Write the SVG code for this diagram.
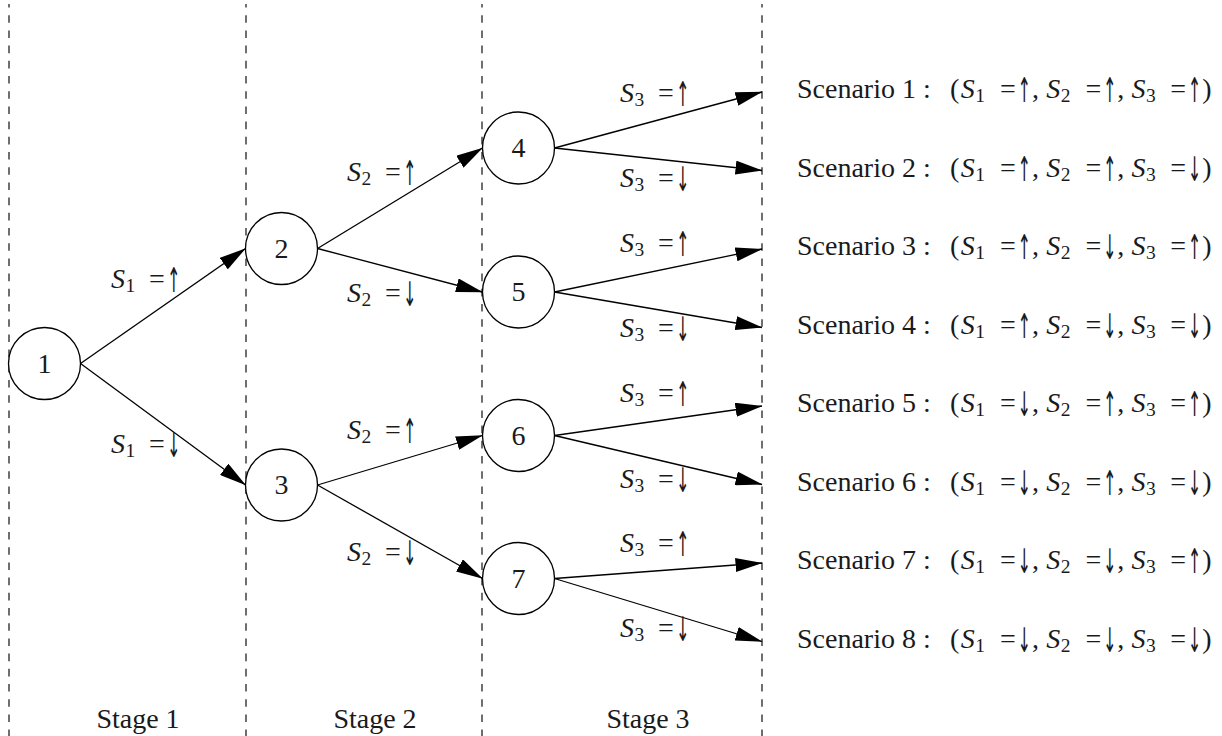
<svg xmlns="http://www.w3.org/2000/svg" width="1222" height="736" viewBox="0 0 1222 736">
<style>
  .dash{stroke:#222;stroke-width:1.3;stroke-dasharray:7.6 7.6;stroke-dashoffset:4;fill:none}
  .nd{fill:#fff;stroke:#000;stroke-width:1.3}
  text{font-family:"Liberation Serif","Times New Roman",serif;font-size:28px;fill:#1a1a1a}
  .num{text-anchor:middle}
  .mid{text-anchor:middle}
  .i{font-style:italic}
  .sb{font-size:19.5px}
  text.ar{font-family:"DejaVu Sans",sans-serif;font-size:34px}
  .edge{stroke:#000;stroke-width:1.3;fill:none;marker-end:url(#ah)}
</style>
<defs>
  <marker id="ah" markerUnits="userSpaceOnUse" viewBox="0 0 27 14" markerWidth="27" markerHeight="14" refX="26.5" refY="7" orient="auto">
    <path d="M0,0 L27,7 L0,14 Z" fill="#000"/>
  </marker>
</defs>
<rect width="1222" height="736" fill="#fff"/>

<g id="stage-separators">
  <path class="dash" d="M9,4 V736"/>
  <path class="dash" d="M246,4 V736"/>
  <path class="dash" d="M482,4 V736"/>
  <path class="dash" d="M762,4 V736"/>
</g>

<g id="stage-labels">
  <text class="mid" x="138" y="728">Stage 1</text>
  <text class="mid" x="375" y="728">Stage 2</text>
  <text class="mid" x="648" y="728">Stage 3</text>
</g>

<g id="connectors">
  <line class="edge" x1="80.5" y1="363.5" x2="245.5" y2="248.5"/>
  <line class="edge" x1="80.5" y1="363.5" x2="245.5" y2="485"/>
  <line class="edge" x1="317.5" y1="248.5" x2="482.5" y2="148"/>
  <line class="edge" x1="317.5" y1="248.5" x2="482.5" y2="292"/>
  <line class="edge" x1="317.5" y1="485" x2="482.5" y2="435.5"/>
  <line class="edge" x1="317.5" y1="485" x2="482.5" y2="578.5"/>
  <line class="edge" x1="554.5" y1="148" x2="762" y2="92"/>
  <line class="edge" x1="554.5" y1="148" x2="762" y2="170.5"/>
  <line class="edge" x1="554.5" y1="292" x2="762" y2="249"/>
  <line class="edge" x1="554.5" y1="292" x2="762" y2="327.5"/>
  <line class="edge" x1="554.5" y1="435.5" x2="762" y2="406"/>
  <line class="edge" x1="554.5" y1="435.5" x2="762" y2="484.5"/>
  <line class="edge" x1="554.5" y1="578.5" x2="762" y2="563"/>
  <line class="edge" x1="554.5" y1="578.5" x2="762" y2="641.5"/>
</g>

<g id="edge-labels">
  <g><text y="288"><tspan x="111" class="i">S</tspan><tspan x="125.5" dy="4" class="sb">1 </tspan><tspan x="149" dy="-4">=</tspan></text><text class="ar" transform="translate(167,292) scale(0.474,1)">↑</text></g>
  <g><text y="453"><tspan x="111" class="i">S</tspan><tspan x="125.5" dy="4" class="sb">1 </tspan><tspan x="149" dy="-4">=</tspan></text><text class="ar" transform="translate(167,457) scale(0.474,1)">↓</text></g>

  <g><text y="181"><tspan x="347" class="i">S</tspan><tspan x="361.5" dy="4" class="sb">2 </tspan><tspan x="385" dy="-4">=</tspan></text><text class="ar" transform="translate(403,185) scale(0.474,1)">↑</text></g>
  <g><text y="302"><tspan x="347" class="i">S</tspan><tspan x="361.5" dy="4" class="sb">2 </tspan><tspan x="385" dy="-4">=</tspan></text><text class="ar" transform="translate(403,306) scale(0.474,1)">↓</text></g>
  <g><text y="439"><tspan x="347" class="i">S</tspan><tspan x="361.5" dy="4" class="sb">2 </tspan><tspan x="385" dy="-4">=</tspan></text><text class="ar" transform="translate(403,443) scale(0.474,1)">↑</text></g>
  <g><text y="561"><tspan x="347" class="i">S</tspan><tspan x="361.5" dy="4" class="sb">2 </tspan><tspan x="385" dy="-4">=</tspan></text><text class="ar" transform="translate(403,565) scale(0.474,1)">↓</text></g>

  <g><text y="102"><tspan x="620" class="i">S</tspan><tspan x="634.5" dy="4" class="sb">3 </tspan><tspan x="658" dy="-4">=</tspan></text><text class="ar" transform="translate(676,106) scale(0.474,1)">↑</text></g>
  <g><text y="187"><tspan x="620" class="i">S</tspan><tspan x="634.5" dy="4" class="sb">3 </tspan><tspan x="658" dy="-4">=</tspan></text><text class="ar" transform="translate(676,191) scale(0.474,1)">↓</text></g>
  <g><text y="252"><tspan x="620" class="i">S</tspan><tspan x="634.5" dy="4" class="sb">3 </tspan><tspan x="658" dy="-4">=</tspan></text><text class="ar" transform="translate(676,256) scale(0.474,1)">↑</text></g>
  <g><text y="337"><tspan x="620" class="i">S</tspan><tspan x="634.5" dy="4" class="sb">3 </tspan><tspan x="658" dy="-4">=</tspan></text><text class="ar" transform="translate(676,341) scale(0.474,1)">↓</text></g>
  <g><text y="402"><tspan x="620" class="i">S</tspan><tspan x="634.5" dy="4" class="sb">3 </tspan><tspan x="658" dy="-4">=</tspan></text><text class="ar" transform="translate(676,406) scale(0.474,1)">↑</text></g>
  <g><text y="488"><tspan x="620" class="i">S</tspan><tspan x="634.5" dy="4" class="sb">3 </tspan><tspan x="658" dy="-4">=</tspan></text><text class="ar" transform="translate(676,492) scale(0.474,1)">↓</text></g>
  <g><text y="552"><tspan x="620" class="i">S</tspan><tspan x="634.5" dy="4" class="sb">3 </tspan><tspan x="658" dy="-4">=</tspan></text><text class="ar" transform="translate(676,556) scale(0.474,1)">↑</text></g>
  <g><text y="637"><tspan x="620" class="i">S</tspan><tspan x="634.5" dy="4" class="sb">3 </tspan><tspan x="658" dy="-4">=</tspan></text><text class="ar" transform="translate(676,641) scale(0.474,1)">↓</text></g>
</g>

<g id="node1"><circle class="nd" cx="44.5" cy="363.5" r="36"/><text class="num" x="44.5" y="372.5">1</text></g>
<g id="node2"><circle class="nd" cx="281.5" cy="248.5" r="36"/><text class="num" x="281.5" y="257.5">2</text></g>
<g id="node3"><circle class="nd" cx="281.5" cy="485" r="36"/><text class="num" x="281.5" y="494">3</text></g>
<g id="node4"><circle class="nd" cx="518.5" cy="148" r="36"/><text class="num" x="518.5" y="157">4</text></g>
<g id="node5"><circle class="nd" cx="518.5" cy="292" r="36"/><text class="num" x="518.5" y="301">5</text></g>
<g id="node6"><circle class="nd" cx="518.5" cy="435.5" r="36"/><text class="num" x="518.5" y="444.5">6</text></g>
<g id="node7"><circle class="nd" cx="518.5" cy="578.5" r="36"/><text class="num" x="518.5" y="587.5">7</text></g>

<g id="scenarios">
  <g id="scenario1">
    <text y="98"><tspan x="797">Scenario 1 : </tspan><tspan x="950">(</tspan><tspan x="960.7" class="i">S</tspan><tspan x="975.2" dy="4" class="sb">1 </tspan><tspan x="1000" dy="-4">=</tspan></text>
    <text class="ar" transform="translate(1017.5,102) scale(0.474,1)">↑</text>
    <text y="98"><tspan x="1032">, </tspan><tspan x="1046.2" class="i">S</tspan><tspan x="1060.7" dy="4" class="sb">2 </tspan><tspan x="1085.4" dy="-4">=</tspan></text>
    <text class="ar" transform="translate(1102.9,102) scale(0.474,1)">↑</text>
    <text y="98"><tspan x="1117.3">, </tspan><tspan x="1131.5" class="i">S</tspan><tspan x="1146" dy="4" class="sb">3 </tspan><tspan x="1170.3" dy="-4">=</tspan></text>
    <text class="ar" transform="translate(1187.8,102) scale(0.474,1)">↑</text>
    <text x="1202.3" y="98">)</text>
  </g>
  <g id="scenario2">
    <text y="176.5"><tspan x="797">Scenario 2 : </tspan><tspan x="950">(</tspan><tspan x="960.7" class="i">S</tspan><tspan x="975.2" dy="4" class="sb">1 </tspan><tspan x="1000" dy="-4">=</tspan></text>
    <text class="ar" transform="translate(1017.5,180.5) scale(0.474,1)">↑</text>
    <text y="176.5"><tspan x="1032">, </tspan><tspan x="1046.2" class="i">S</tspan><tspan x="1060.7" dy="4" class="sb">2 </tspan><tspan x="1085.4" dy="-4">=</tspan></text>
    <text class="ar" transform="translate(1102.9,180.5) scale(0.474,1)">↑</text>
    <text y="176.5"><tspan x="1117.3">, </tspan><tspan x="1131.5" class="i">S</tspan><tspan x="1146" dy="4" class="sb">3 </tspan><tspan x="1170.3" dy="-4">=</tspan></text>
    <text class="ar" transform="translate(1187.8,180.5) scale(0.474,1)">↓</text>
    <text x="1202.3" y="176.5">)</text>
  </g>
  <g id="scenario3">
    <text y="255"><tspan x="797">Scenario 3 : </tspan><tspan x="950">(</tspan><tspan x="960.7" class="i">S</tspan><tspan x="975.2" dy="4" class="sb">1 </tspan><tspan x="1000" dy="-4">=</tspan></text>
    <text class="ar" transform="translate(1017.5,259) scale(0.474,1)">↑</text>
    <text y="255"><tspan x="1032">, </tspan><tspan x="1046.2" class="i">S</tspan><tspan x="1060.7" dy="4" class="sb">2 </tspan><tspan x="1085.4" dy="-4">=</tspan></text>
    <text class="ar" transform="translate(1102.9,259) scale(0.474,1)">↓</text>
    <text y="255"><tspan x="1117.3">, </tspan><tspan x="1131.5" class="i">S</tspan><tspan x="1146" dy="4" class="sb">3 </tspan><tspan x="1170.3" dy="-4">=</tspan></text>
    <text class="ar" transform="translate(1187.8,259) scale(0.474,1)">↑</text>
    <text x="1202.3" y="255">)</text>
  </g>
  <g id="scenario4">
    <text y="333.5"><tspan x="797">Scenario 4 : </tspan><tspan x="950">(</tspan><tspan x="960.7" class="i">S</tspan><tspan x="975.2" dy="4" class="sb">1 </tspan><tspan x="1000" dy="-4">=</tspan></text>
    <text class="ar" transform="translate(1017.5,337.5) scale(0.474,1)">↑</text>
    <text y="333.5"><tspan x="1032">, </tspan><tspan x="1046.2" class="i">S</tspan><tspan x="1060.7" dy="4" class="sb">2 </tspan><tspan x="1085.4" dy="-4">=</tspan></text>
    <text class="ar" transform="translate(1102.9,337.5) scale(0.474,1)">↓</text>
    <text y="333.5"><tspan x="1117.3">, </tspan><tspan x="1131.5" class="i">S</tspan><tspan x="1146" dy="4" class="sb">3 </tspan><tspan x="1170.3" dy="-4">=</tspan></text>
    <text class="ar" transform="translate(1187.8,337.5) scale(0.474,1)">↓</text>
    <text x="1202.3" y="333.5">)</text>
  </g>
  <g id="scenario5">
    <text y="412"><tspan x="797">Scenario 5 : </tspan><tspan x="950">(</tspan><tspan x="960.7" class="i">S</tspan><tspan x="975.2" dy="4" class="sb">1 </tspan><tspan x="1000" dy="-4">=</tspan></text>
    <text class="ar" transform="translate(1017.5,416) scale(0.474,1)">↓</text>
    <text y="412"><tspan x="1032">, </tspan><tspan x="1046.2" class="i">S</tspan><tspan x="1060.7" dy="4" class="sb">2 </tspan><tspan x="1085.4" dy="-4">=</tspan></text>
    <text class="ar" transform="translate(1102.9,416) scale(0.474,1)">↑</text>
    <text y="412"><tspan x="1117.3">, </tspan><tspan x="1131.5" class="i">S</tspan><tspan x="1146" dy="4" class="sb">3 </tspan><tspan x="1170.3" dy="-4">=</tspan></text>
    <text class="ar" transform="translate(1187.8,416) scale(0.474,1)">↑</text>
    <text x="1202.3" y="412">)</text>
  </g>
  <g id="scenario6">
    <text y="490.5"><tspan x="797">Scenario 6 : </tspan><tspan x="950">(</tspan><tspan x="960.7" class="i">S</tspan><tspan x="975.2" dy="4" class="sb">1 </tspan><tspan x="1000" dy="-4">=</tspan></text>
    <text class="ar" transform="translate(1017.5,494.5) scale(0.474,1)">↓</text>
    <text y="490.5"><tspan x="1032">, </tspan><tspan x="1046.2" class="i">S</tspan><tspan x="1060.7" dy="4" class="sb">2 </tspan><tspan x="1085.4" dy="-4">=</tspan></text>
    <text class="ar" transform="translate(1102.9,494.5) scale(0.474,1)">↑</text>
    <text y="490.5"><tspan x="1117.3">, </tspan><tspan x="1131.5" class="i">S</tspan><tspan x="1146" dy="4" class="sb">3 </tspan><tspan x="1170.3" dy="-4">=</tspan></text>
    <text class="ar" transform="translate(1187.8,494.5) scale(0.474,1)">↓</text>
    <text x="1202.3" y="490.5">)</text>
  </g>
  <g id="scenario7">
    <text y="569"><tspan x="797">Scenario 7 : </tspan><tspan x="950">(</tspan><tspan x="960.7" class="i">S</tspan><tspan x="975.2" dy="4" class="sb">1 </tspan><tspan x="1000" dy="-4">=</tspan></text>
    <text class="ar" transform="translate(1017.5,573) scale(0.474,1)">↓</text>
    <text y="569"><tspan x="1032">, </tspan><tspan x="1046.2" class="i">S</tspan><tspan x="1060.7" dy="4" class="sb">2 </tspan><tspan x="1085.4" dy="-4">=</tspan></text>
    <text class="ar" transform="translate(1102.9,573) scale(0.474,1)">↓</text>
    <text y="569"><tspan x="1117.3">, </tspan><tspan x="1131.5" class="i">S</tspan><tspan x="1146" dy="4" class="sb">3 </tspan><tspan x="1170.3" dy="-4">=</tspan></text>
    <text class="ar" transform="translate(1187.8,573) scale(0.474,1)">↑</text>
    <text x="1202.3" y="569">)</text>
  </g>
  <g id="scenario8">
    <text y="647.5"><tspan x="797">Scenario 8 : </tspan><tspan x="950">(</tspan><tspan x="960.7" class="i">S</tspan><tspan x="975.2" dy="4" class="sb">1 </tspan><tspan x="1000" dy="-4">=</tspan></text>
    <text class="ar" transform="translate(1017.5,651.5) scale(0.474,1)">↓</text>
    <text y="647.5"><tspan x="1032">, </tspan><tspan x="1046.2" class="i">S</tspan><tspan x="1060.7" dy="4" class="sb">2 </tspan><tspan x="1085.4" dy="-4">=</tspan></text>
    <text class="ar" transform="translate(1102.9,651.5) scale(0.474,1)">↓</text>
    <text y="647.5"><tspan x="1117.3">, </tspan><tspan x="1131.5" class="i">S</tspan><tspan x="1146" dy="4" class="sb">3 </tspan><tspan x="1170.3" dy="-4">=</tspan></text>
    <text class="ar" transform="translate(1187.8,651.5) scale(0.474,1)">↓</text>
    <text x="1202.3" y="647.5">)</text>
  </g>
</g>
</svg>
